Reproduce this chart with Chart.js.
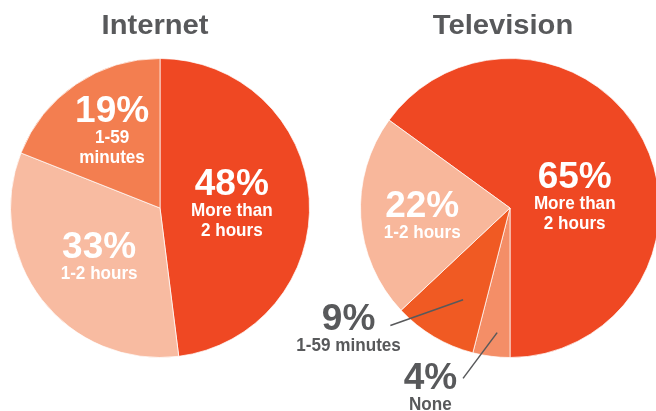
<!DOCTYPE html>
<html><head><meta charset="utf-8">
<script src="https://cdn.jsdelivr.net/npm/chart.js@4"></script>
<style>
html,body{margin:0;padding:0;background:#fff;width:656px;height:411px;overflow:hidden;}
canvas{position:absolute;left:0;top:0;}
</style></head><body>
<canvas id="c1" width="656" height="411"></canvas>
<canvas id="c2" width="700" height="411"></canvas>
<script>
// ---- data ----
const internetTitle = 'Internet';
const internetCategories = ['More than 2 hours', '1-2 hours', '1-59 minutes'];
const internetValues = [48, 33, 19];
const internetCaptions = [['More than', '2 hours'], ['1-2 hours'], ['1-59', 'minutes']];

const tvTitle = 'Television';
const tvCategories = ['More than 2 hours', 'None', '1-59 minutes', '1-2 hours'];
const tvValues = [65, 4, 9, 22];
const tvCaptions = [['More than', '2 hours'], ['None'], ['1-59 minutes'], ['1-2 hours']];

// ---- styles ----
const internetColors = ['#EF4823', '#F8BBA1', '#F37E50'];
const tvColors = ['#EF4823', '#F48E67', '#F05A23', '#F8B79B'];
const FONT = '"Liberation Sans", Arial, Helvetica, sans-serif';
const GREY = '#58595B';

function txt(ctx, s, x, y, size, sx, color) {
  ctx.save();
  ctx.font = 'bold ' + size + 'px ' + FONT;
  ctx.fillStyle = color;
  ctx.textAlign = 'center';
  ctx.textBaseline = 'alphabetic';
  ctx.translate(x, y);
  ctx.scale(sx, 1);
  ctx.fillText(s, 0, 0);
  ctx.restore();
}

const labelPlugin = {
  id: 'pieLabels',
  afterDraw(chart, args, o) {
    const ctx = chart.ctx;
    const arc = chart.getDatasetMeta(0).data[0];
    const cx = arc.x, cy = arc.y, R = arc.outerRadius;
    const pt = (a, f) => [cx + Math.sin(a * Math.PI / 180) * f * R, cy - Math.cos(a * Math.PI / 180) * f * R];
    txt(ctx, o.title, cx + o.titleDx, cy - R - 25, 27, 1.08, GREY);
    const vals = chart.data.datasets[0].data;
    o.place.forEach((p, i) => {
      const [x, y] = pt(p.a, p.f);
      if (p.lead) {
        const [x1, y1] = pt(p.lead[0][0], p.lead[0][1]);
        const [x2, y2] = pt(p.lead[1][0], p.lead[1][1]);
        ctx.save();
        ctx.strokeStyle = GREY; ctx.lineWidth = 1.5;
        ctx.beginPath(); ctx.moveTo(x1, y1); ctx.lineTo(x2, y2); ctx.stroke();
        ctx.restore();
      }
      const col = p.lead ? GREY : '#FFFFFF';
      txt(ctx, vals[i] + '%', x, y, 37, 1, col);
      o.captions[i].forEach((line, j) => txt(ctx, line, x, y + 21 + j * 20, 19, 0.9, col));
    });
  }
};

function makePie(id, categories, values, colors, rotation, padding, title, titleDx, captions, place) {
  return new Chart(document.getElementById(id), {
    type: 'pie',
    data: {
      labels: categories,
      datasets: [{ data: values, backgroundColor: colors, borderColor: 'rgba(255,255,255,0.7)', borderWidth: 1 }]
    },
    options: {
      responsive: false,
      animation: false,
      rotation: rotation,
      layout: { padding: padding },
      plugins: {
        legend: { display: false },
        tooltip: { enabled: false },
        pieLabels: { title, titleDx, captions, place }
      }
    },
    plugins: [labelPlugin]
  });
}

makePie('c1', internetCategories, internetValues, internetColors, 0,
  { left: 10, top: 58, right: 346, bottom: 53 }, internetTitle, -5, internetCaptions,
  [{ a: 79.8, f: 0.488 }, { a: 230.7, f: 0.526 }, { a: 330.8, f: 0.657 }]);

makePie('c2', tvCategories, tvValues, tvColors, -54,
  { left: 360, top: 58, right: 40, bottom: 53 }, tvTitle, -7, tvCaptions,
  [{ a: 72.9, f: 0.453 },
   { a: 203.7, f: 1.325, lead: [[185.9, 0.838], [195.4, 1.182]] },
   { a: 233, f: 1.352, lead: [[207.1, 0.689], [225.5, 1.122]] },
   { a: 264.2, f: 0.59 }]);
</script>
</body></html>
